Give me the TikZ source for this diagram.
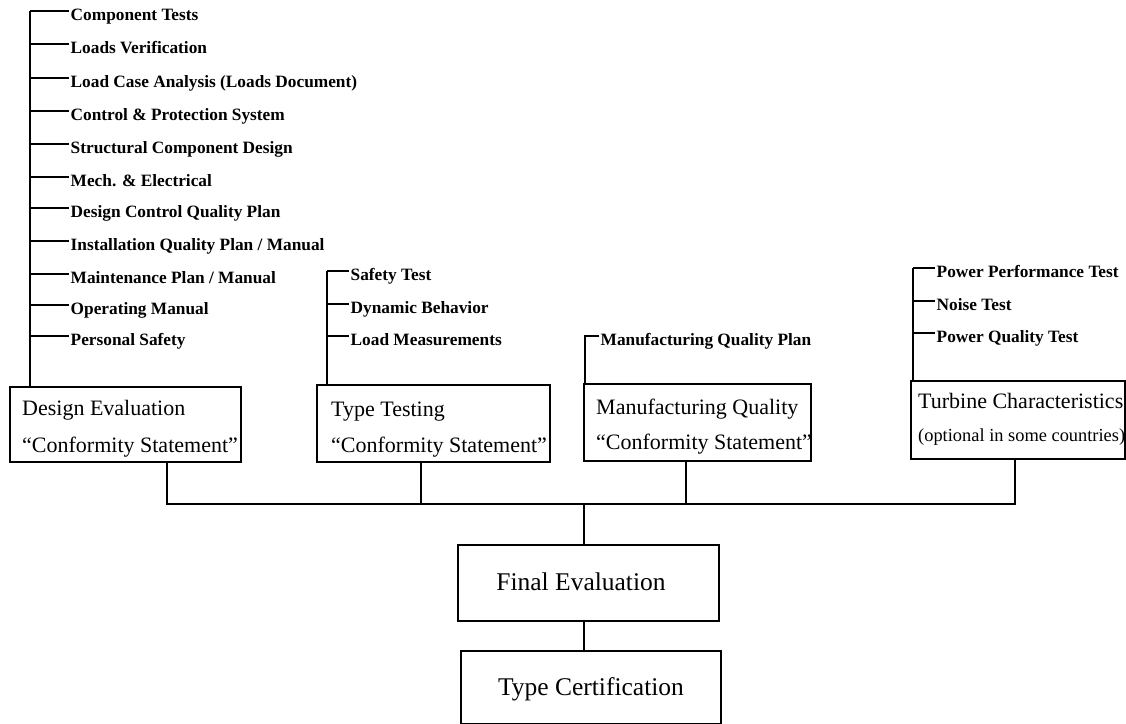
\documentclass[tikz,border=0pt]{standalone}
\usepackage{fontspec}
\setmainfont{Liberation Serif}
\begin{document}
\begin{tikzpicture}[x=1pt,y=-1pt,
  ln/.style={line width=2pt},
  boxs/.style={draw,line width=2.2pt,inner sep=0pt,anchor=north west},
  lab/.style={anchor=west,inner ysep=0pt,inner xsep=1.5pt,text height=18pt,text depth=0pt,font=\fontsize{17.3}{20}\selectfont\bfseries},
  btxt/.style={anchor=base west,inner sep=0pt,font=\fontsize{22}{26}\selectfont},
  otxt/.style={anchor=base west,inner sep=0pt,font=\fontsize{18.4}{22}\selectfont},
  ftxt/.style={anchor=base,inner sep=0pt,font=\fontsize{25.5}{30}\selectfont}]
\useasboundingbox (0,0) rectangle (1126,723);

% ---- boxes
\node[boxs,minimum width=231pt,minimum height=75pt] (de) at (9,386) {};
\node[boxs,minimum width=233pt,minimum height=77pt] (tt) at (316,384) {};
\node[boxs,minimum width=227pt,minimum height=77pt] (mq) at (583,383) {};
\node[boxs,minimum width=214pt,minimum height=78pt] (tc) at (910,380) {};
\node[boxs,minimum width=261pt,minimum height=76pt] (fe) at (457,544) {};
\node[boxs,minimum width=260pt,minimum height=73pt] (cert) at (460,650) {};

% ---- box texts
\node[btxt] (de1) at (22,415) {Design Evaluation};
\node[btxt] (de2) at (22,452) {“Conformity Statement”};
\node[btxt] (tt1) at (331,416) {Type Testing};
\node[btxt] (tt2) at (331,452) {“Conformity Statement”};
\node[btxt] (mq1) at (596,414) {Manufacturing Quality};
\node[btxt] (mq2) at (596,449) {“Conformity Statement”};
\node[btxt] (tc1) at (918,408) {Turbine Characteristics};
\node[otxt] (tc2) at (918,441) {(optional in some countries)};
\node[ftxt] (fe1) at (581,590) {Final Evaluation};
\node[ftxt] (ce1) at (591,695) {Type Certification};

% ---- design evaluation tree
\coordinate (deT) at (30,0);
\foreach \t [count=\i] in {Component Tests,Loads Verification,Load Case Analysis (Loads Document),Control \& Protection System,Structural Component Design,Mech. \& Electrical,Design Control Quality Plan,Installation Quality Plan / Manual,Maintenance Plan / Manual,Operating Manual,Personal Safety}{
  \pgfmathsetmacro{\yy}{{11,44,78,111,144,177,208,241,274,305,336}[\i-1]}
  \node[lab] (l\i) at (69,\yy) {\t};
  \draw[ln] (deT |- l\i.west) -- (l\i.west);
}
\draw[ln] (deT |- l1.west) -- (deT |- de.north);

% ---- type testing tree
\coordinate (ttT) at (327,0);
\node[lab] (t1) at (349,271) {Safety Test};
\node[lab] (t2) at (349,304) {Dynamic Behavior};
\node[lab] (t3) at (349,336) {Load Measurements};
\foreach \n in {t1,t2,t3}{\draw[ln] (ttT |- \n.west) -- (\n.west);}
\draw[ln] (ttT |- t1.west) -- (ttT |- tt.north);

% ---- manufacturing tree
\coordinate (mqT) at (585,0);
\node[lab] (m1) at (599,336) {Manufacturing Quality Plan};
\draw[ln] (m1.west) -- (mqT |- m1.west) -- (mqT |- mq.north);

% ---- turbine tree
\coordinate (tcT) at (913,0);
\node[lab] (p1) at (935,268) {Power Performance Test};
\node[lab] (p2) at (935,301) {Noise Test};
\node[lab] (p3) at (935,333) {Power Quality Test};
\foreach \n in {p1,p2,p3}{\draw[ln] (tcT |- \n.west) -- (\n.west);}
\draw[ln] (tcT |- p1.west) -- (tcT |- tc.north);

% ---- bus
\coordinate (j1) at (167,504);
\coordinate (j2) at (421,504);
\coordinate (j3) at (686,504);
\coordinate (j4) at (1015,504);
\coordinate (jc) at (584,504);
\draw[ln] (j1 |- de.south) -- (j1) -- (j4) -- (j4 |- tc.south);
\draw[ln] (j2 |- tt.south) -- (j2);
\draw[ln] (j3 |- mq.south) -- (j3);
\draw[ln] (jc) -- (jc |- fe.north);
\draw[ln] (jc |- fe.south) -- (jc |- cert.north);
\end{tikzpicture}
\end{document}
